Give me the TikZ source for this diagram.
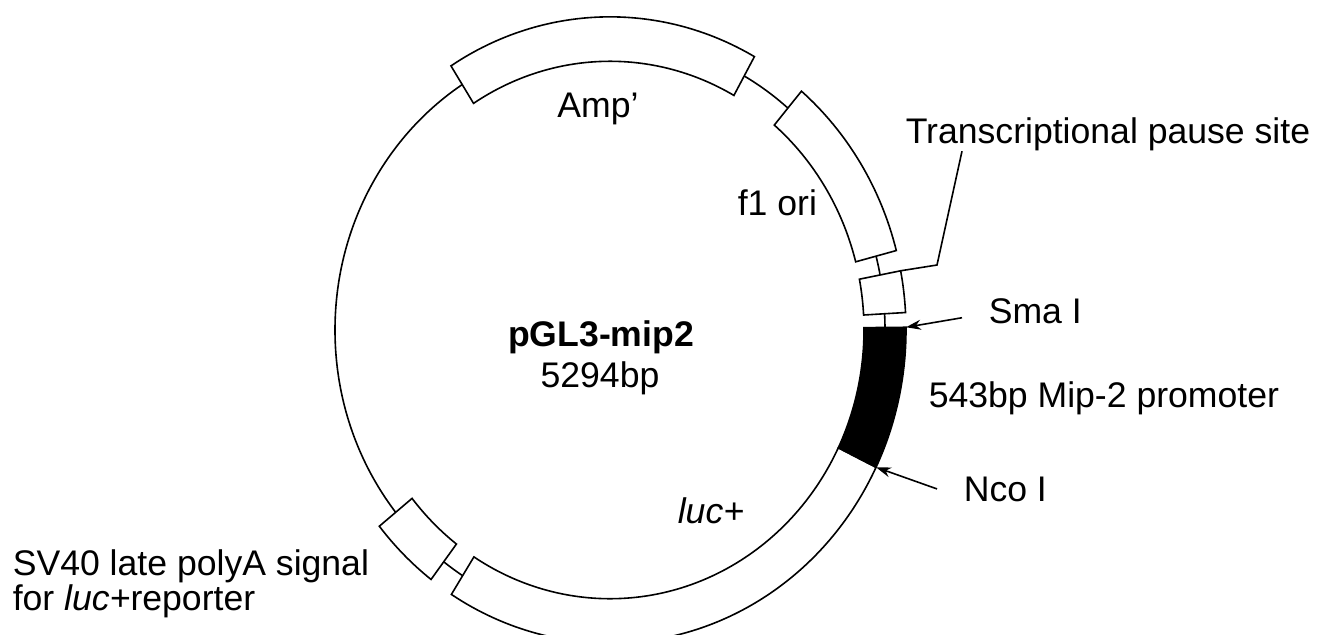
\documentclass[tikz,border=0pt]{standalone}
\usepackage{fontspec}
\setmainfont{Liberation Sans}
\usetikzlibrary{calc,arrows.meta}

\begin{document}
\begin{tikzpicture}[>={Stealth[length=7.5pt,width=5pt]},x=0.5pt,y=0.5pt,line width=0.8pt,
    lab/.style={font=\fontsize{17.8}{16}\selectfont,inner sep=0pt,anchor=base west},
    part/.style={draw,fill=white}]
    \useasboundingbox (0,0) rectangle (1318,634);
    \pgfmathsetmacro{\rc}{137.5}
    \pgfmathsetmacro{\ri}{127}
    \pgfmathsetmacro{\ro}{148}
    \begin{scope}[shift={(610,304)},yscale=1.058]
        \draw (0,0) circle (\rc pt);
        \foreach \s/\e in {60.8/122.5,14.7/49.7,3.2/10.9,-122.4/-26,-141.2/-127.2}
        \draw[part](\s:\ri pt)arc[start angle=\s,end angle=\e,radius=\ri pt]
            --(\e:\ro pt)arc[start angle=\e,end angle=\s,radius=\ro pt]--cycle;
        \draw[part,fill=black](-26:\ri pt)arc[start angle=-26,end angle=0.5,radius=\ri pt]
            --(0.5:\ro pt)arc[start angle=0.5,end angle=-26,radius=\ro pt]--cycle;
        \coordinate (smacut) at (0.5:\ro pt);
        \coordinate (ncocut) at (-26:\ro pt);
        \coordinate (pausebox) at (10.9:\ro pt);
    \end{scope}
    \node[lab,anchor=base] (amp) at (598,517) {Amp’};
    \node[lab] (f1) at (737,419) {f1 ori};
    \node[lab,anchor=base,font=\fontsize{17.8}{16}\selectfont\bfseries] (name) at (601,288) {pGL3-mip2};
    \node[lab,anchor=base] (size) at (600,247) {5294bp};
    \node[lab] (luc) at (677,111) {\itshape luc+};
    \node[lab,anchor=north west,align=left] (sv) at (12,85) {SV40 late polyA signal\\for \textit{luc+}reporter};
    \node[lab] (pausetxt) at (905,491) {Transcriptional pause site};
    \node[lab] (smatxt) at (988,311) {Sma I};
    \node[lab] (prom) at (928,227) {543bp Mip-2 promoter};
    \node[lab] (ncotxt) at (963,133) {Nco I};
    \coordinate (pausefoot) at ([xshift=28.5pt]pausetxt.south west);
    \coordinate (pausebend) at (937,369);
    \draw (pausefoot)--(pausebend)--(pausebox);
    \draw[->] ([xshift=-13pt,yshift=-3.5pt]smatxt.west)--(smacut);
    \draw[->] ([xshift=-13pt]ncotxt.west)--(ncocut);
\end{tikzpicture}
\end{document}
